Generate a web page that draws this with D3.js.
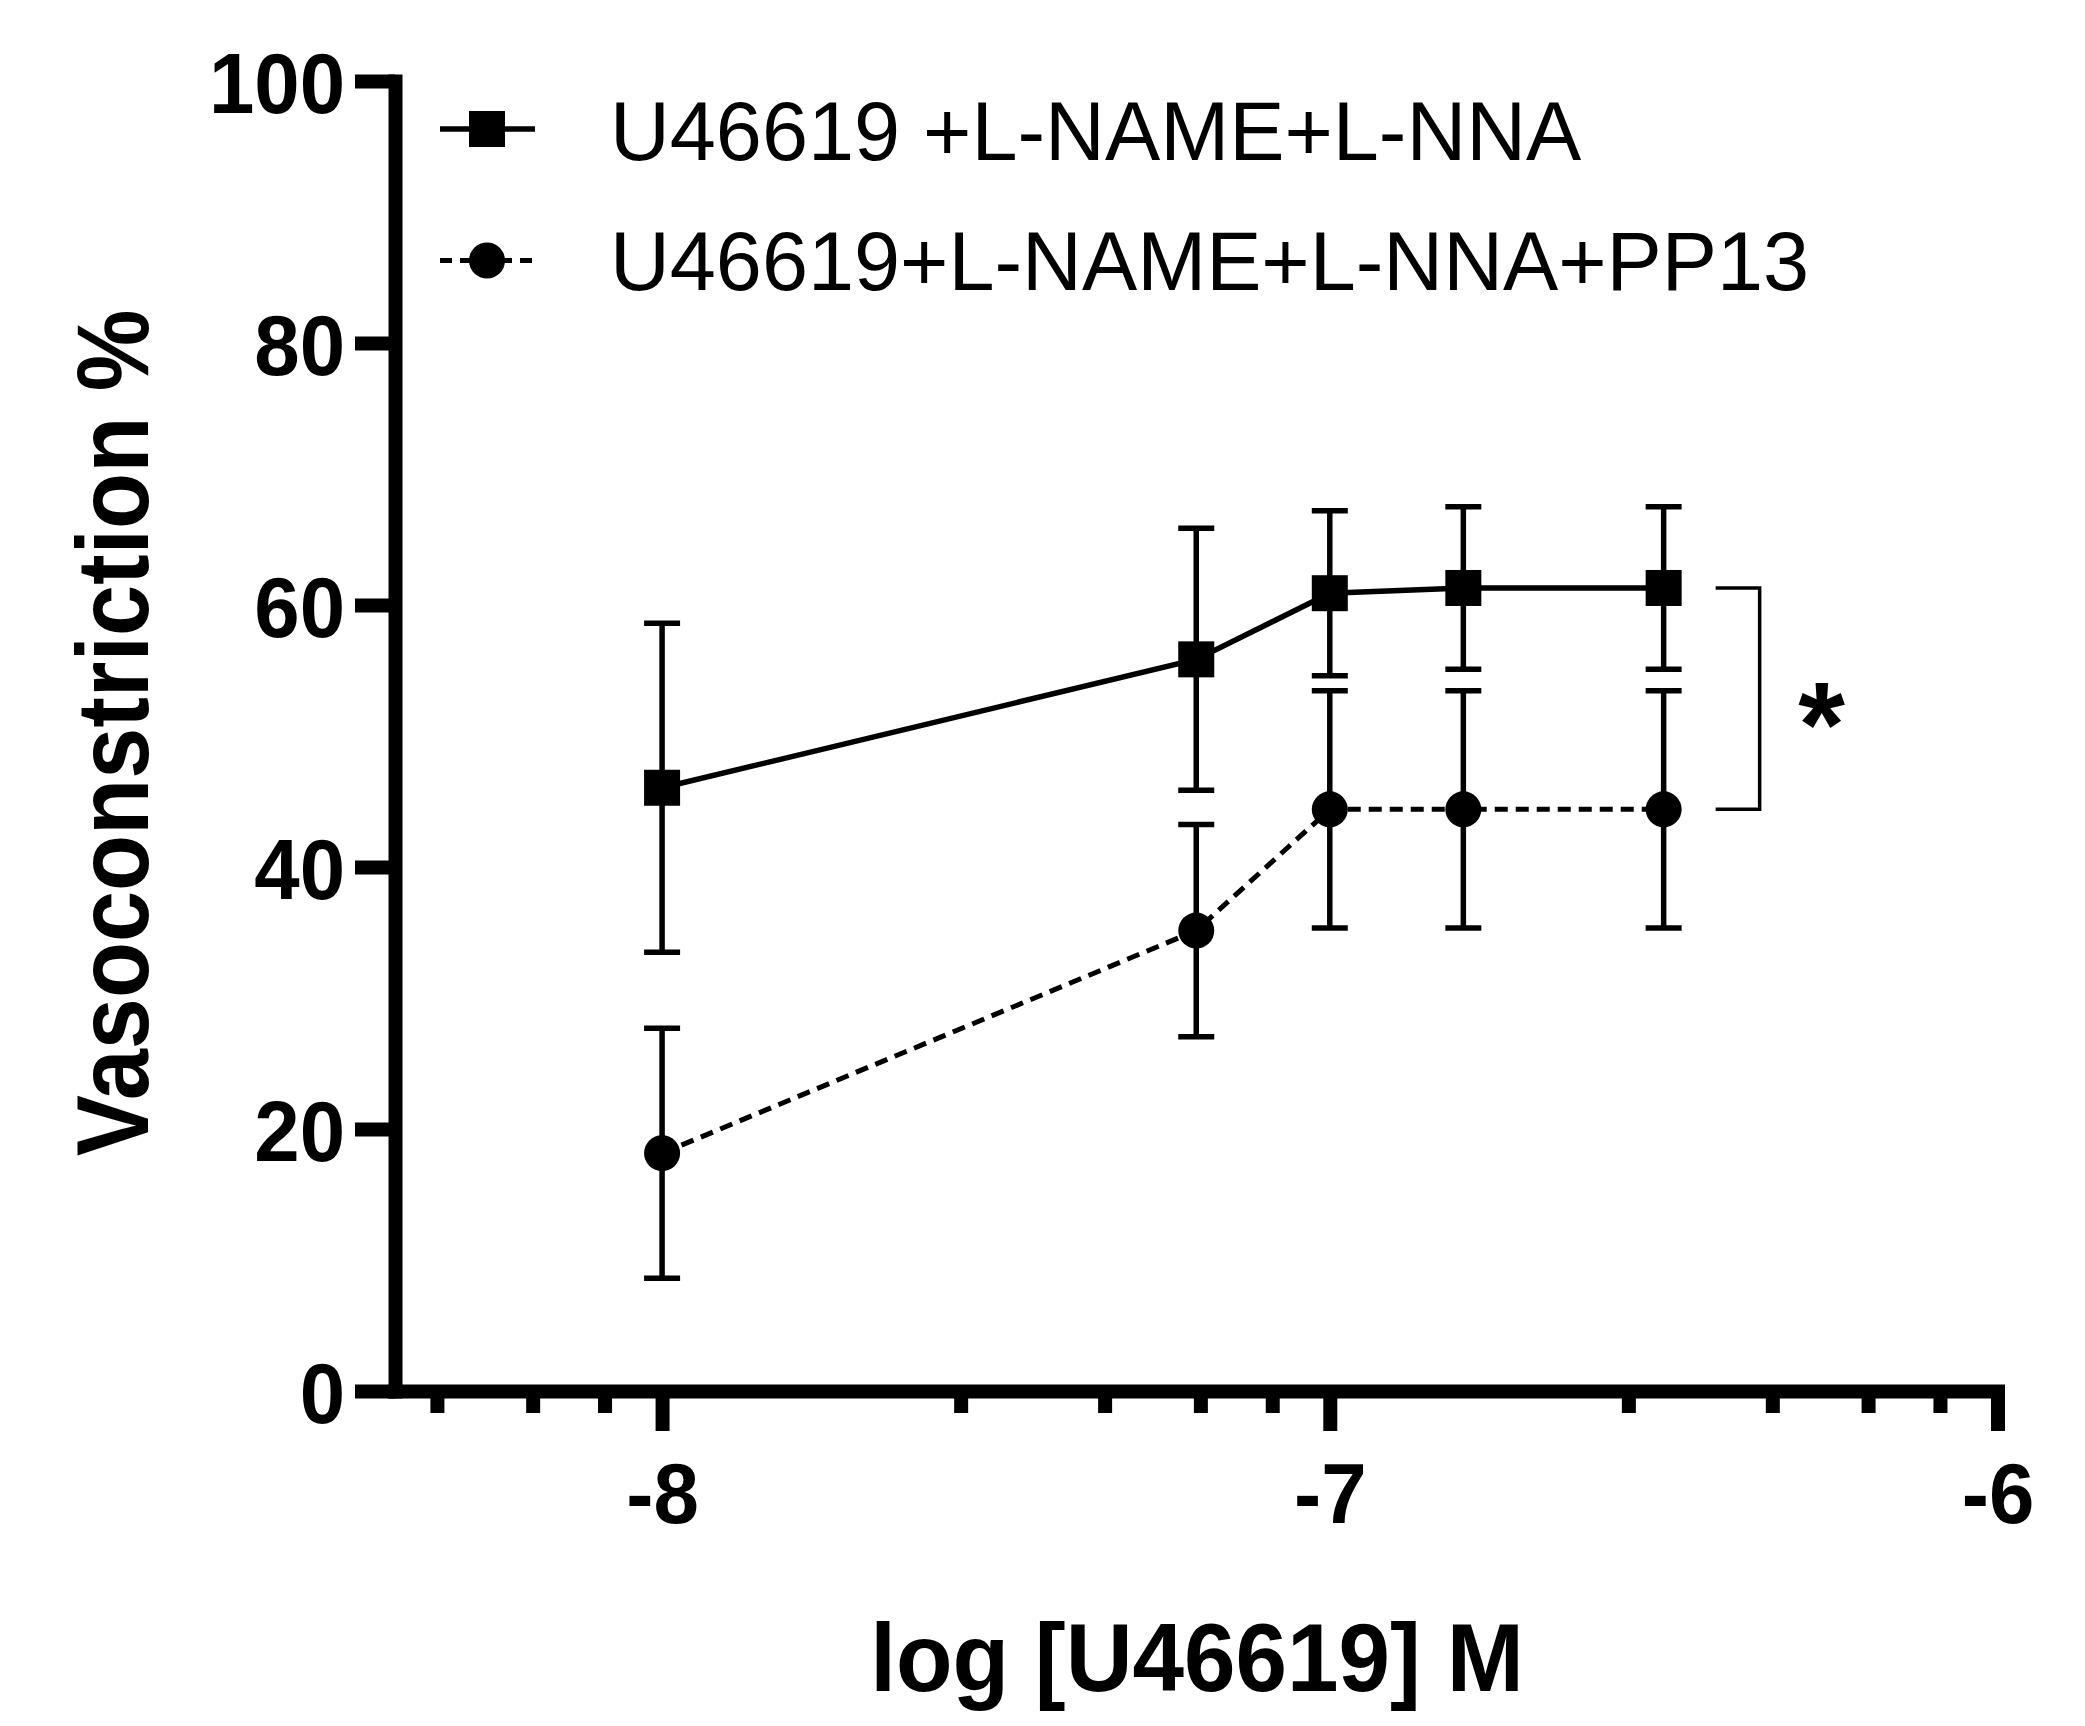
<!DOCTYPE html>
<html>
<head>
<meta charset="utf-8">
<script src="https://cdn.jsdelivr.net/npm/d3@7"></script>
<style>
  html, body { margin: 0; padding: 0; background: #fff; }
  svg { display: block; }
  text { font-family: "Liberation Sans", Arial, sans-serif; fill: #000; }
</style>
</head>
<body>
<svg id="chart" width="2085" height="1726"></svg>
<script>
// ---- data ----
const logConc = [-8, -7.2, -7, -6.8, -6.5];
const ctrlMean = [46.05, 55.85, 60.9, 61.3, 61.3];
const ctrlSem  = [12.55, 10.0, 6.3, 6.2, 6.2];
const pp13Mean = [18.15, 35.15, 44.4, 44.4, 44.4];
const pp13Sem  = [9.55, 8.1, 9.05, 9.05, 9.05];
const seriesNames = ["U46619 +L-NAME+L-NNA", "U46619+L-NAME+L-NNA+PP13"];
const xMajorTicks = [-8, -7, -6];
const xMinorFactors = [2.8, 4.6, 6.4, 8.2];
const xMinorDecades = [-9, -8, -7];
const yTicks = [0, 20, 40, 60, 80, 100];
const xTitle = "log [U46619] M";
const yTitle = "Vasoconstriction %";
const sigLabel = "*";

// ---- layout ----
const svg = d3.select("#chart");
const x = d3.scaleLinear().domain([-8.4, -6]).range([395, 1997.5]);
const y = d3.scaleLinear().domain([0, 100]).range([1391, 81]);
const AXW = 14;

const minorTicks = [];
xMinorDecades.forEach(dec => xMinorFactors.forEach(f => {
  const v = dec + Math.log10(f);
  if (v > x.domain()[0] && v < x.domain()[1]) minorTicks.push(v);
}));

// Y axis
const yAxis = d3.axisLeft(y).tickValues(yTicks).tickSize(40).tickSizeOuter(0)
  .tickFormat(d => String(d));
const gy = svg.append("g").attr("transform", `translate(${x.range()[0]},0)`).call(yAxis);
gy.select(".domain").attr("stroke", "#000").attr("stroke-width", AXW).attr("stroke-linecap", "square");
gy.selectAll(".tick line").attr("stroke", "#000").attr("stroke-width", AXW);
const tickSx = 0.96;
gy.selectAll(".tick text")
  .attr("x", -50 / tickSx).attr("dy", 0).attr("y", 31)
  .attr("transform", `scale(${tickSx},1)`)
  .style("font-size", "85px").style("font-weight", "bold")
  .style("font-family", '"Liberation Sans", Arial, sans-serif')
  .attr("fill", "#000").attr("text-anchor", "end");

// X axis (minor ticks first)
const xMinor = d3.axisBottom(x).tickValues(minorTicks).tickSize(22).tickSizeOuter(0).tickFormat("");
const gxm = svg.append("g").attr("transform", `translate(0,${y.range()[0]})`).call(xMinor);
gxm.select(".domain").remove();
gxm.selectAll(".tick line").attr("stroke", "#000").attr("stroke-width", AXW);

const xAxis = d3.axisBottom(x).tickValues(xMajorTicks).tickSize(40).tickSizeOuter(0)
  .tickFormat(d => String(d));
const gx = svg.append("g").attr("transform", `translate(0,${y.range()[0]})`).call(xAxis);
gx.select(".domain").attr("stroke", "#000").attr("stroke-width", AXW).attr("stroke-linecap", "square");
gx.selectAll(".tick line").attr("stroke", "#000").attr("stroke-width", AXW);
gx.selectAll(".tick text")
  .attr("y", 132).attr("dy", 0)
  .attr("transform", `scale(${tickSx},1)`)
  .style("font-size", "85px").style("font-weight", "bold")
  .style("font-family", '"Liberation Sans", Arial, sans-serif')
  .attr("fill", "#000").attr("text-anchor", "middle");

// Axis titles
svg.append("text")
  .attr("transform", `translate(1197,1691) scale(0.955,1)`)
  .attr("text-anchor", "middle")
  .style("font-size", "97px").style("font-weight", "bold")
  .text(xTitle);
svg.append("text")
  .attr("transform", `translate(148,733) rotate(-90) scale(0.9,1)`)
  .attr("text-anchor", "middle")
  .style("font-size", "102px").style("font-weight", "bold")
  .text(yTitle);

// ---- data marks ----
const plot = svg.append("g");
const ctrl = logConc.map((v, i) => ({x: v, m: ctrlMean[i], s: ctrlSem[i]}));
const pp13 = logConc.map((v, i) => ({x: v, m: pp13Mean[i], s: pp13Sem[i]}));
const MK = 36, CAP = 36, EBW = 5.5;

function errorBars(data) {
  const g = plot.append("g").attr("stroke", "#000").attr("stroke-width", EBW);
  g.selectAll("line.v").data(data).join("line").attr("class", "v")
    .attr("x1", d => x(d.x)).attr("x2", d => x(d.x))
    .attr("y1", d => y(d.m + d.s)).attr("y2", d => y(d.m - d.s));
  g.selectAll("line.t").data(data).join("line").attr("class", "t")
    .attr("x1", d => x(d.x) - CAP / 2).attr("x2", d => x(d.x) + CAP / 2)
    .attr("y1", d => y(d.m + d.s)).attr("y2", d => y(d.m + d.s));
  g.selectAll("line.b").data(data).join("line").attr("class", "b")
    .attr("x1", d => x(d.x) - CAP / 2).attr("x2", d => x(d.x) + CAP / 2)
    .attr("y1", d => y(d.m - d.s)).attr("y2", d => y(d.m - d.s));
}
errorBars(ctrl);
errorBars(pp13);

const line = d3.line().x(d => x(d.x)).y(d => y(d.m));
plot.append("path").datum(ctrl).attr("d", line)
  .attr("fill", "none").attr("stroke", "#000").attr("stroke-width", 5.5);
plot.append("path").datum(pp13).attr("d", line)
  .attr("fill", "none").attr("stroke", "#000").attr("stroke-width", 5)
  .attr("stroke-dasharray", "13,8");

plot.selectAll("rect.mk").data(ctrl).join("rect").attr("class", "mk")
  .attr("x", d => x(d.x) - MK / 2).attr("y", d => y(d.m) - MK / 2)
  .attr("width", MK).attr("height", MK).attr("fill", "#000");
plot.selectAll("ellipse.mk").data(pp13).join("ellipse").attr("class", "mk")
  .attr("cx", d => x(d.x)).attr("cy", d => y(d.m))
  .attr("rx", MK / 2).attr("ry", MK / 2).attr("fill", "#000");

// significance bracket
const lastC = ctrl[ctrl.length - 1], lastP = pp13[pp13.length - 1];
const bx0 = x(lastC.x) + 52, bx1 = x(lastC.x) + 96;
svg.append("path")
  .attr("d", `M${bx0},${y(lastC.m)}H${bx1}V${y(lastP.m)}H${bx0}`)
  .attr("fill", "none").attr("stroke", "#000").attr("stroke-width", 3.5);
svg.append("text")
  .attr("x", bx1 + 62).attr("y", 766)
  .attr("text-anchor", "middle")
  .style("font-size", "120px").style("font-weight", "bold")
  .text(sigLabel);

// ---- legend ----
const leg = svg.append("g");
const legY = [129, 260.5];
leg.append("line").attr("x1", 440).attr("x2", 535).attr("y1", legY[0]).attr("y2", legY[0])
  .attr("stroke", "#000").attr("stroke-width", 5.5);
leg.append("rect").attr("x", 487 - MK / 2).attr("y", legY[0] - MK / 2)
  .attr("width", MK).attr("height", MK).attr("fill", "#000");
leg.append("line").attr("x1", 440).attr("x2", 535).attr("y1", legY[1]).attr("y2", legY[1])
  .attr("stroke", "#000").attr("stroke-width", 5).attr("stroke-dasharray", "12,8");
leg.append("circle").attr("cx", 487).attr("cy", legY[1]).attr("r", MK / 2).attr("fill", "#000");
leg.selectAll("text").data(seriesNames).join("text")
  .attr("transform", (d, i) => `translate(610,${[160, 290][i]}) scale(0.986,1)`)
  .style("font-size", "84px")
  .text(d => d);
</script>
</body>
</html>
